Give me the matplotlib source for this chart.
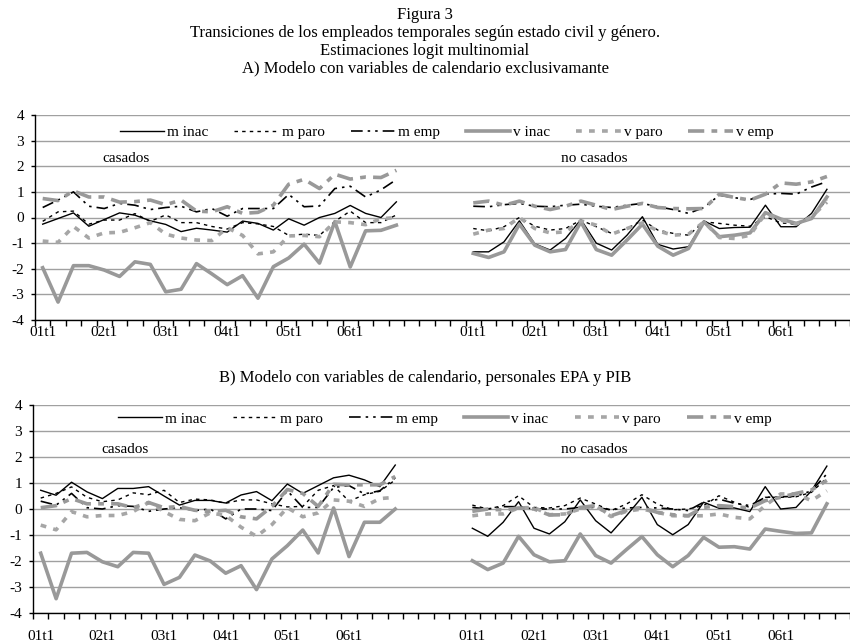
import matplotlib
matplotlib.use('Agg')
import matplotlib.pyplot as plt
import numpy as np

plt.rcParams['font.family'] = 'Liberation Serif'
plt.rcParams['axes.unicode_minus'] = False

series_names = ['m inac', 'm paro', 'm emp', 'v inac', 'v paro', 'v emp']
year_labels = ['01t1', '02t1', '03t1', '04t1', '05t1', '06t1']

# A) casados
a_cas_m_inac = [-0.26, -0.04, 0.18, -0.34, -0.08, 0.18, 0.09, -0.13, -0.27, -0.55, -0.42, -0.49,
                -0.57, -0.14, -0.23, -0.49, -0.05, -0.3, 0.0, 0.16, 0.47, 0.16, 0.0, 0.61]
a_cas_m_paro = [-0.15, 0.22, 0.25, -0.26, -0.1, -0.1, 0.15, -0.15, 0.1, -0.2, -0.2, -0.35,
                -0.45, -0.2, -0.25, -0.35, -0.7, -0.65, -0.7, -0.15, 0.25, -0.2, -0.2, 0.1]
a_cas_m_emp = [0.39, 0.68, 1.0, 0.44, 0.35, 0.55, 0.48, 0.31, 0.39, 0.44, 0.22, 0.35,
               0.05, 0.35, 0.35, 0.35, 0.9, 0.42, 0.45, 1.13, 1.22, 0.8, 1.08, 1.48]
a_cas_v_inac = [-1.96, -3.3, -1.88, -1.88, -2.05, -2.3, -1.73, -1.83, -2.9, -2.8, -1.8, -2.2,
                -2.62, -2.27, -3.15, -1.92, -1.58, -1.04, -1.78, -0.16, -1.93, -0.52, -0.5, -0.3]
a_cas_v_paro = [-0.92, -0.97, -0.35, -0.8, -0.6, -0.58, -0.4, -0.2, -0.65, -0.8, -0.88, -0.9,
                -0.4, -0.7, -1.42, -1.34, -0.72, -0.7, -0.75, -0.17, -0.2, -0.28, -0.05, 0.0]
a_cas_v_emp = [0.74, 0.66, 1.04, 0.8, 0.8, 0.6, 0.62, 0.68, 0.5, 0.68, 0.25, 0.22,
               0.42, 0.16, 0.2, 0.48, 1.3, 1.49, 1.13, 1.69, 1.5, 1.58, 1.56, 1.84]

# A) no casados
a_nc_m_inac = [-1.34, -1.34, -0.95, -0.13, -1.03, -1.27, -0.82, -0.08, -1.0, -1.27, -0.69, 0.03,
               -1.05, -1.23, -1.14, -0.13, -0.43, -0.39, -0.38, 0.48, -0.36, -0.36, 0.16, 1.1]
a_nc_m_paro = [-0.43, -0.52, -0.36, 0.0, -0.34, -0.49, -0.43, -0.1, -0.36, -0.62, -0.43, -0.1,
               -0.49, -0.62, -0.69, -0.17, -0.23, -0.3, -0.34, 0.03, -0.21, -0.26, -0.04, 0.7]
a_nc_m_emp = [0.44, 0.42, 0.5, 0.55, 0.44, 0.42, 0.48, 0.52, 0.44, 0.39, 0.48, 0.55,
              0.42, 0.31, 0.16, 0.39, 0.87, 0.77, 0.7, 0.91, 0.94, 0.91, 1.19, 1.4]
a_nc_v_inac = [-1.4, -1.56, -1.34, -0.26, -1.08, -1.34, -1.25, -0.17, -1.25, -1.47, -0.88, -0.26,
               -1.12, -1.47, -1.21, -0.17, -0.75, -0.69, -0.6, 0.19, -0.06, -0.23, -0.04, 0.8]
a_nc_v_paro = [-0.65, -0.49, -0.43, 0.0, -0.43, -0.6, -0.56, -0.13, -0.3, -0.65, -0.43, -0.21,
               -0.52, -0.69, -0.65, -0.17, -0.78, -0.82, -0.69, 0.15, -0.1, -0.26, 0.03, 0.6]
a_nc_v_emp = [0.57, 0.64, 0.48, 0.64, 0.44, 0.31, 0.44, 0.64, 0.48, 0.31, 0.44, 0.55,
              0.39, 0.35, 0.34, 0.35, 0.91, 0.78, 0.68, 0.91, 1.35, 1.3, 1.39, 1.6]

# B) casados
b_cas_m_inac = [0.72, 0.53, 1.03, 0.66, 0.4, 0.79, 0.79, 0.86, 0.5, 0.15, 0.33, 0.33,
                0.23, 0.54, 0.67, 0.32, 0.96, 0.6, 0.9, 1.2, 1.3, 1.12, 0.86, 1.69]
b_cas_m_paro = [0.42, 0.6, 0.85, 0.45, 0.28, 0.35, 0.62, 0.55, 0.72, 0.25, 0.38, 0.35,
                0.22, 0.35, 0.35, 0.2, 0.08, 0.1, 0.72, 0.9, 0.3, 0.55, 0.68, 1.12]
b_cas_m_emp = [0.3, 0.15, 0.6, 0.05, 0.0, 0.13, 0.1, -0.09, 0.0, 0.05, -0.06, 0.0,
               -0.38, 0.0, 0.0, -0.06, 0.7, 0.06, 0.06, 0.83, 0.9, 0.58, 0.7, 1.2]
b_cas_v_inac = [-1.7, -3.45, -1.7, -1.67, -2.03, -2.22, -1.67, -1.7, -2.9, -2.63, -1.77, -2.0,
                -2.47, -2.18, -3.1, -1.92, -1.41, -0.81, -1.69, 0.04, -1.83, -0.51, -0.51, 0.0]
b_cas_v_paro = [-0.62, -0.8, -0.1, -0.3, -0.25, -0.25, -0.1, 0.25, -0.1, -0.4, -0.45, -0.15,
                -0.25, -0.7, -1.05, -0.6, 0.05, -0.3, -0.15, 0.35, 0.3, 0.1, 0.4, 0.45]
b_cas_v_emp = [0.05, 0.13, 0.4, 0.2, 0.2, 0.2, 0.05, 0.25, 0.05, 0.1, -0.05, -0.1,
               -0.05, -0.3, -0.38, 0.1, 0.75, 0.6, 0.1, 0.95, 0.93, 0.93, 0.93, 1.25]

# B) no casados
b_nc_m_inac = [-0.74, -1.05, -0.51, 0.28, -0.74, -0.96, -0.49, 0.35, -0.45, -0.92, -0.26, 0.45,
               -0.6, -0.99, -0.6, 0.26, 0.03, 0.04, -0.1, 0.86, 0.0, 0.06, 0.7, 1.65]
b_nc_m_paro = [0.15, 0.0, 0.13, 0.51, 0.06, 0.04, 0.13, 0.42, 0.19, -0.06, 0.19, 0.55,
               0.19, -0.03, 0.0, 0.13, 0.51, 0.26, 0.06, 0.45, 0.45, 0.47, 0.64, 1.2]
b_nc_m_emp = [0.06, 0.0, 0.09, 0.09, 0.0, 0.0, 0.0, 0.06, 0.06, -0.03, 0.04, 0.06,
              0.04, 0.0, -0.06, 0.26, 0.38, 0.22, 0.13, 0.45, 0.47, 0.49, 0.7, 1.35]
b_nc_v_inac = [-1.99, -2.33, -2.08, -1.05, -1.76, -2.03, -1.99, -0.96, -1.79, -2.08, -1.56, -1.06,
               -1.76, -2.22, -1.79, -1.09, -1.47, -1.45, -1.54, -0.77, -0.86, -0.94, -0.92, 0.2]
b_nc_v_paro = [-0.26, -0.19, -0.19, 0.04, 0.06, -0.22, -0.19, 0.0, 0.13, -0.29, -0.09, 0.0,
               -0.13, -0.26, -0.26, -0.26, -0.19, -0.32, -0.38, 0.13, 0.58, 0.58, 0.32, 0.7]
b_nc_v_emp = [-0.09, 0.0, -0.04, 0.04, 0.0, -0.23, -0.22, 0.06, 0.13, -0.26, -0.06, 0.06,
              -0.13, -0.22, -0.26, 0.06, 0.13, 0.09, 0.04, 0.32, 0.45, 0.6, 0.73, 1.1]

styles = {
    'm inac': dict(color='black', lw=1.0, ls='-'),
    'm paro': dict(color='black', lw=1.0, dashes=(2.5, 3)),
    'm emp': dict(color='black', lw=1.2, dashes=(7, 3, 1.5, 3, 1.5, 3)),
    'v inac': dict(color='#999999', lw=2.6, ls='-'),
    'v paro': dict(color='#a6a6a6', lw=2.6, dashes=(1.6, 2.0)),
    'v emp': dict(color='#999999', lw=2.6, dashes=(4.5, 2, 1.6, 2)),
}

W, H = 850, 643
fig = plt.figure(figsize=(W / 100, H / 100), dpi=100)


def draw_panel(ax, cas, nc, right, label_pad, leg_xy, txt_y):
    n = len(cas[0])
    x_cas = np.arange(n)
    x_nc = np.arange(n) + n + 4
    for name, yc, yn in zip(series_names, cas, nc):
        st = styles[name]
        ax.plot(x_cas, yc, label=name, **st)
        ax.plot(x_nc, yn, **st)
    ax.set_xlim(-0.5, right)
    ax.set_ylim(-4, 4)
    ax.set_yticks(range(-4, 5))
    pos = list(range(0, n, 4)) + list(range(n + 4, 2 * n + 4, 4))
    ax.set_xticks(pos)
    ax.set_xticklabels(year_labels + year_labels)
    ax.set_xticks(np.arange(-0.5, 2 * n + 5, 1), minor=True)
    ax.tick_params(axis='x', which='major', length=0, pad=label_pad, labelsize=11)
    ax.tick_params(axis='x', which='minor', length=4, direction='out', width=1, color='black')
    ax.tick_params(axis='y', length=3, direction='out', width=1, labelsize=11, pad=5)
    ax.grid(axis='y', color='#a0a0a0', lw=1)
    ax.set_axisbelow(True)
    for s in ['top', 'right']:
        ax.spines[s].set_visible(False)
    for s in ['left', 'bottom']:
        ax.spines[s].set_color('black')
        ax.spines[s].set_linewidth(1)
    ax.legend(ncol=6, loc='center', bbox_to_anchor=leg_xy, frameon=False, fontsize=11,
              handlelength=2.9, handletextpad=0.2, columnspacing=1.7)
    ax.text(5.45, txt_y, 'casados', ha='center', va='center', fontsize=11)
    ax.text(n + 4 + 7.9, txt_y, 'no casados', ha='center', va='center', fontsize=11)


axA = fig.add_axes([35 / W, 1 - 320 / H, 815 / W, 205 / H])
draw_panel(axA,
           [a_cas_m_inac, a_cas_m_paro, a_cas_m_emp, a_cas_v_inac, a_cas_v_paro, a_cas_v_emp],
           [a_nc_m_inac, a_nc_m_paro, a_nc_m_emp, a_nc_v_inac, a_nc_v_paro, a_nc_v_emp],
           right=50.76, label_pad=4, leg_xy=(0.505, 0.917), txt_y=2.32)

axB = fig.add_axes([33 / W, 1 - 613 / H, 817 / W, 208 / H])
draw_panel(axB,
           [b_cas_m_inac, b_cas_m_paro, b_cas_m_emp, b_cas_v_inac, b_cas_v_paro, b_cas_v_emp],
           [b_nc_m_inac, b_nc_m_paro, b_nc_m_emp, b_nc_v_inac, b_nc_v_paro, b_nc_v_emp],
           right=51.05, label_pad=12, leg_xy=(0.504, 0.933), txt_y=2.3)

fig.text(0.5, 1 - 15 / H, 'Figura 3', ha='center', va='center', fontsize=12)
fig.text(0.5, 1 - 33 / H, 'Transiciones de los empleados temporales según estado civil y género.',
         ha='center', va='center', fontsize=12)
fig.text(0.5, 1 - 51 / H, 'Estimaciones logit multinomial', ha='center', va='center', fontsize=12)
fig.text(0.5, 1 - 68 / H, 'A) Modelo con variables de calendario exclusivamante',
         ha='center', va='center', fontsize=12)
fig.text(0.5, 1 - 378 / H, 'B) Modelo con variables de calendario, personales EPA y PIB',
         ha='center', va='center', fontsize=12)

fig.savefig('out.png', dpi=100)
